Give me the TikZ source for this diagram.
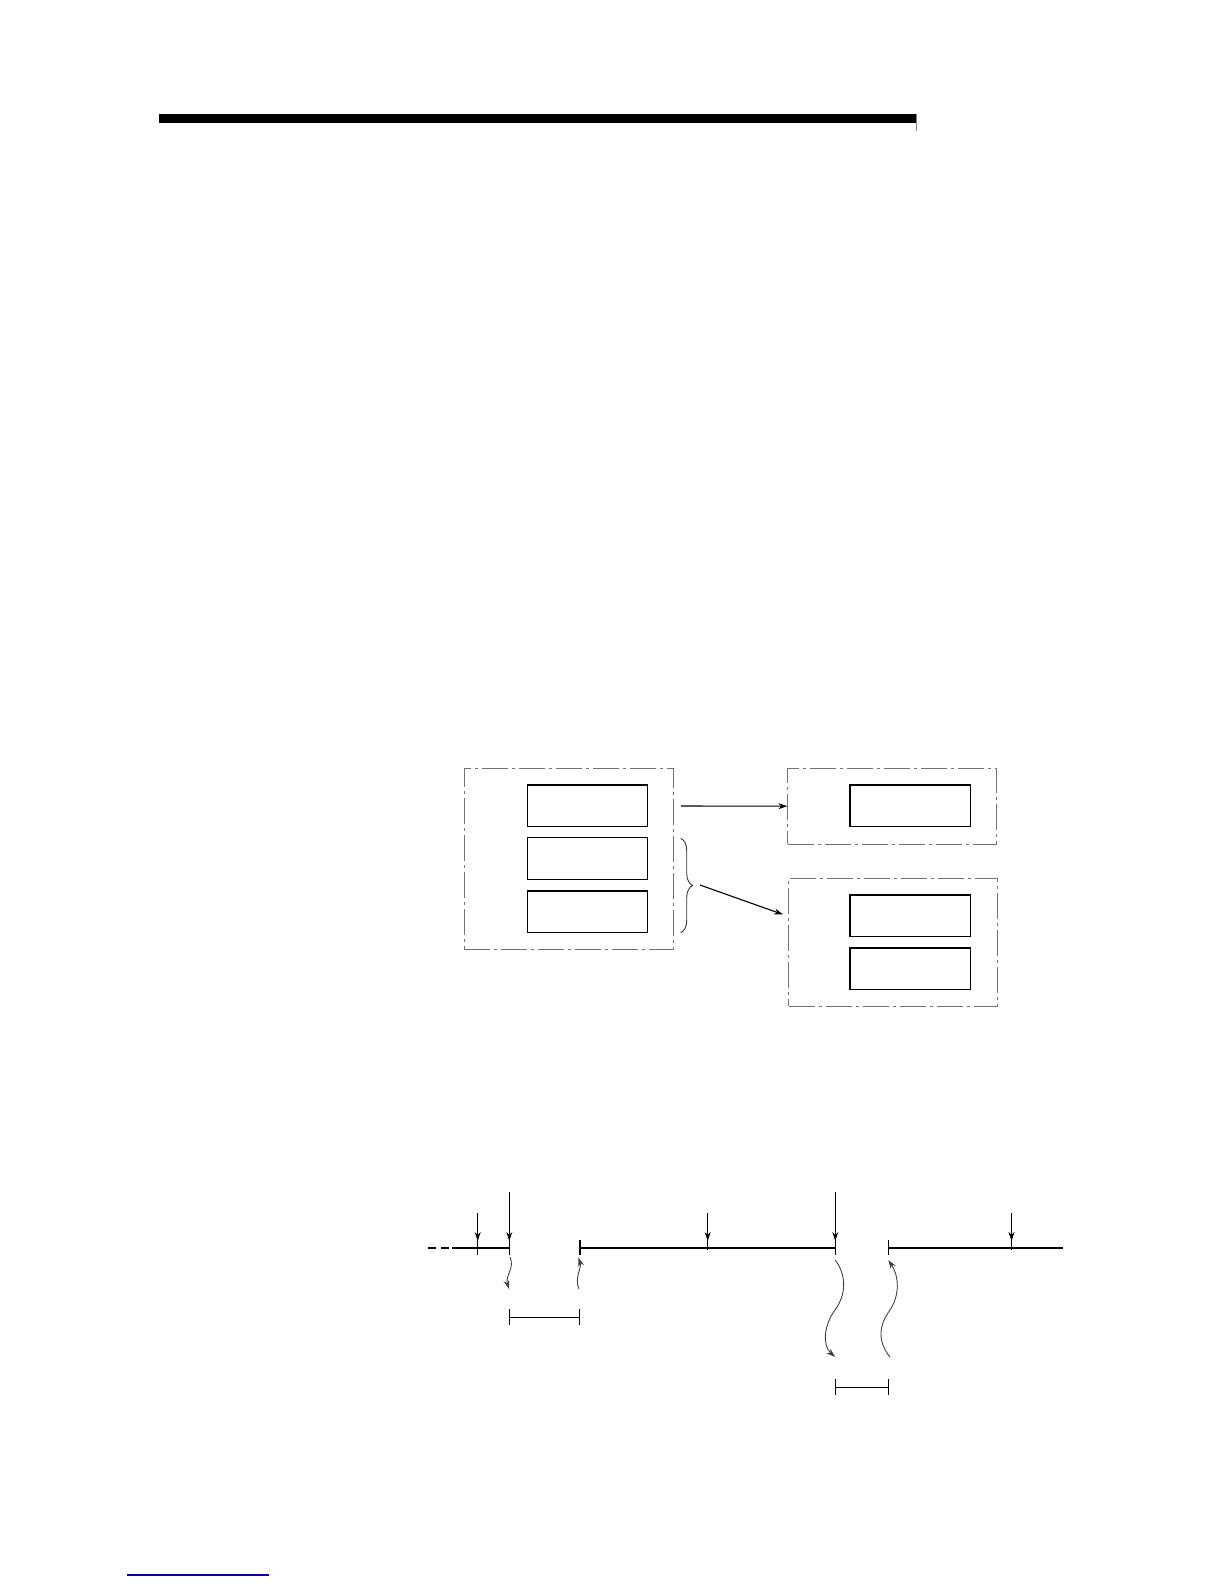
\documentclass[tikz,border=0pt]{standalone}
\usetikzlibrary{arrows.meta,decorations.pathreplacing}
\begin{document}
\begin{tikzpicture}[x=0.5pt,y=-0.5pt,
  ibox/.style={draw=black,line width=0.65pt,minimum width=60.2pt,minimum height=20.85pt,inner sep=0pt},
  dbox/.style={draw=black!55,line width=0.5pt,inner sep=0pt,dash pattern=on 13pt off 2pt on 1.5pt off 2pt},
  arr/.style={line width=0.55pt,-{Stealth[length=4.5pt,width=3pt]}},
  tl/.style={line width=1.3pt},
  tick/.style={line width=0.55pt},
  wavy/.style={line width=0.45pt,draw=black!75,-{Stealth[length=4.5pt,width=3pt]}}]
\useasboundingbox (0,0) rectangle (1224,1584);
% header bar
\fill[black] (159,114) rectangle (916,123);
\draw[black!50,line width=0.4pt] (916,114) -- (916,131);
% footer blue line
\draw[blue!60!black,line width=0.8pt] (127,1575) -- (269,1575);

% dash-dot frames
\node[dbox,minimum width=104.5pt,minimum height=90.5pt] (L) at (568.8,858.8) {};
\node[dbox,minimum width=104.15pt,minimum height=37.85pt] (TR) at (892,806.2) {};
\node[dbox,minimum width=104.35pt,minimum height=63.85pt] (BR) at (893,942.2) {};
% inner boxes
\node[ibox] (L1) at (587.5,805.9) {};
\node[ibox] (L2) at (587.5,858.5) {};
\node[ibox] (L3) at (587.5,911.7) {};
\node[ibox] (R1) at (910.3,805.9) {};
\node[ibox] (R2) at (910.3,915.9) {};
\node[ibox] (R3) at (910.3,968.8) {};
% brace
\coordinate (bt) at (680.7,838.3);
\coordinate (bb) at (680.7,932.7);
\draw[black!80,line width=0.45pt,decorate,decoration={brace,amplitude=6pt}] (bt) -- (bb);
\coordinate (btip) at (700,885);
\coordinate (a1) at (681,806);
\draw[arr] (a1) -- (TR.west);
\draw[arr,shorten >=3pt] (btip) -- (788.7,916.5);

% timeline
\coordinate (d0) at (428,1248);
\coordinate (d1) at (452,1248);
\coordinate (e1) at (509.3,1248);
\coordinate (s2) at (580,1248);
\coordinate (e2) at (835.3,1248);
\coordinate (s3) at (888.3,1248);
\coordinate (e3) at (1063,1248);
\draw[tl,dash pattern=on 4pt off 2.5pt] (d0) -- (d1);
\draw[tl] (d1) -- (e1);
\draw[tl] (s2) -- (e2);
\draw[tl] (s3) -- (e3);
% ticks
\draw[tick] (580,1240) -- (580,1255);
\draw[tick] (888.3,1240) -- (888.3,1255);
% event arrows
\foreach \x/\t/\b in {477.7/1213/1255, 509.3/1192/1255, 707.7/1213/1250, 835.3/1192/1255, 1011.5/1213/1250}{
  \draw[tick] (\x,\t) -- (\x,\b);
  \draw[arr] (\x,\t) -- (\x,1241);
}
% wavy arrows
\draw[wavy] (510,1257) .. controls (515,1268) and (505,1276) .. (509,1289);
\draw[wavy] (579,1289) .. controls (574,1278) and (582,1268) .. (578.3,1257.5);
\draw[wavy] (835.3,1260) .. controls (847,1276) and (846,1295) .. (835,1310) .. controls (824,1325) and (822,1345) .. (835,1357);
\draw[wavy] (890,1357) .. controls (877,1341) and (879,1325) .. (890,1310) .. controls (900,1295) and (899,1276) .. (888.3,1260);
% rulers
\draw[tick] (509.3,1317.3) -- (579.3,1317.3);
\draw[tick] (509.3,1309) -- (509.3,1325);
\draw[tick] (579.3,1309) -- (579.3,1325);
\draw[tick] (835.3,1387.3) -- (888.3,1387.3);
\draw[tick] (835.3,1379) -- (835.3,1395);
\draw[tick] (888.3,1379) -- (888.3,1395);
\end{tikzpicture}
\end{document}
